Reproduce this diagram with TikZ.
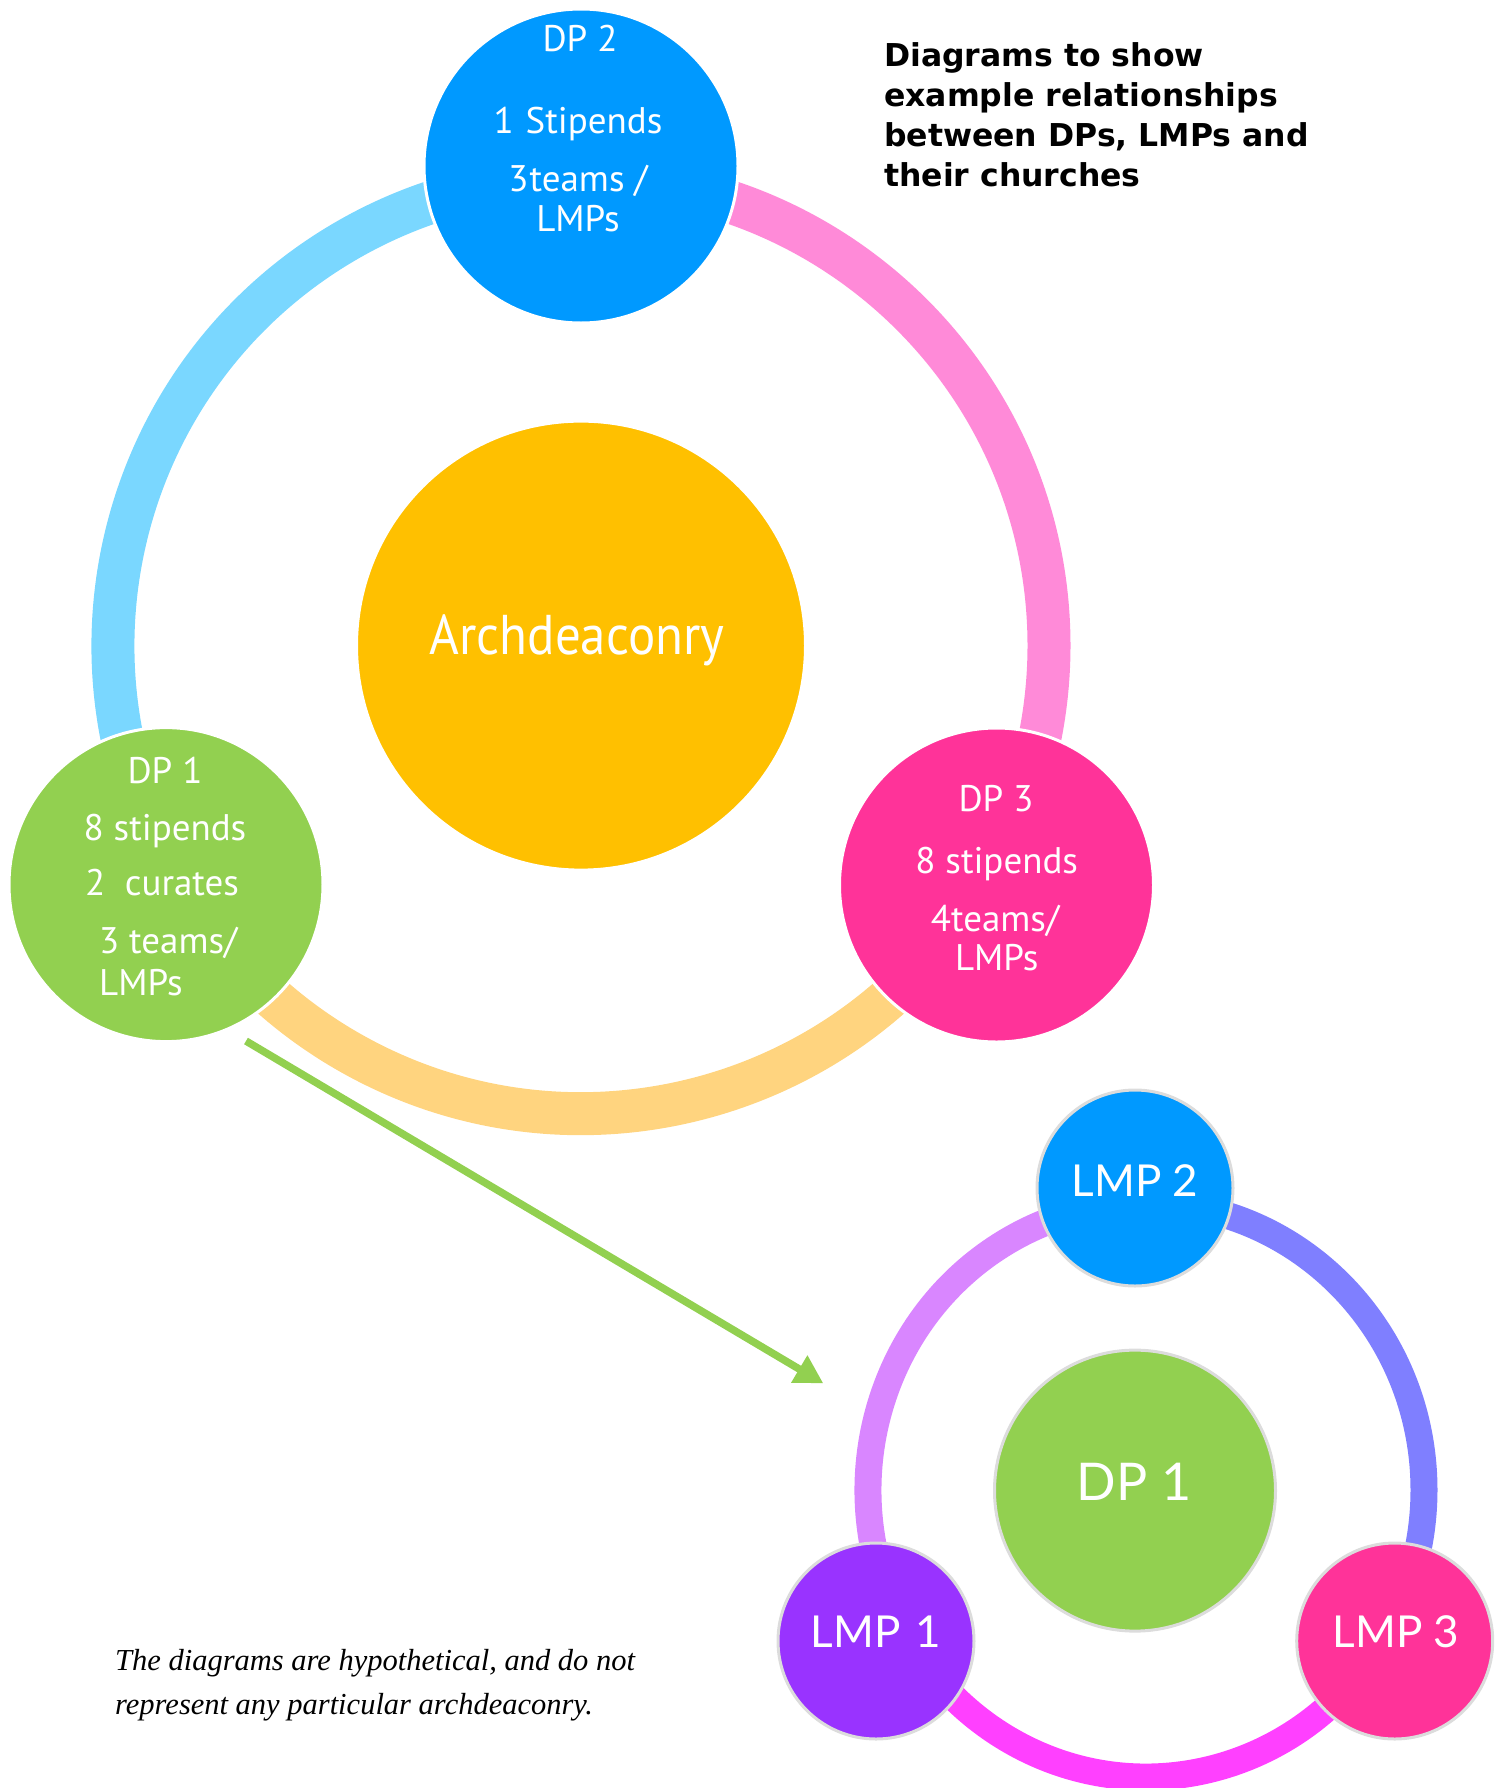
\documentclass[tikz,border=0pt]{standalone}
\usepackage{fontspec}
\usetikzlibrary{arrows.meta}
\newfontfamily\circfont{PT Sans}
\newfontfamily\archfont[FakeStretch=0.91]{PT Sans}
\newfontfamily\lmpfont{Lato}
\newfontfamily\headfont{DejaVu Sans}
\newfontfamily\notefont{Liberation Serif}
\definecolor{dpblue}{HTML}{0099FF}
\definecolor{ltblue}{HTML}{7AD7FF}
\definecolor{pinkarc}{HTML}{FF8AD8}
\definecolor{dppink}{HTML}{FF3399}
\definecolor{dpgreen}{HTML}{92D050}
\definecolor{archgold}{HTML}{FFC000}
\definecolor{orangearc}{HTML}{FFD47F}
\definecolor{lmppurple}{HTML}{9933FF}
\definecolor{leftarc}{HTML}{D986FF}
\definecolor{rightarc}{HTML}{7F7FFF}
\definecolor{bottomarc}{HTML}{FF40FF}
\definecolor{sborder}{HTML}{DCDCDC}
\begin{document}
\begin{tikzpicture}[x=1pt,y=-1pt,
  bigring/.style={line width=43pt},
  smallring/.style={line width=27pt},
  bigcirc/.style={circle, draw=white, line width=3pt, inner sep=0pt, minimum size=#1},
  smallcirc/.style={circle, draw=sborder, line width=3pt, inner sep=0pt, minimum size=#1},
  ctext/.style={text=white, inner sep=0pt, font=\circfont\fontsize{37}{44}\selectfont},
  ltext/.style={text=white, inner sep=0pt, font=\lmpfont\fontsize{44}{53}\selectfont},
  headtext/.style={anchor=base west, inner sep=0pt, font=\headfont\bfseries\fontsize{31.5}{38}\selectfont},
  notetext/.style={anchor=base west, inner sep=0pt, font=\notefont\itshape\fontsize{30.5}{36}\selectfont},
  greenarrow/.style={draw=dpgreen, line width=7.5pt, -{Triangle[length=28pt,width=30pt]}}
]
\useasboundingbox (0,0) rectangle (1503,1788);

% ---------- big diagram ----------
\coordinate (bigc) at (581,645.6);
\draw[bigring, ltblue] ([shift={(150:468)}]bigc) arc[start angle=150, end angle=270, radius=468];
\draw[bigring, pinkarc] ([shift={(270:468)}]bigc) arc[start angle=270, end angle=390, radius=468];
\draw[bigring, orangearc] ([shift={(30:468)}]bigc) arc[start angle=30, end angle=150, radius=468];

\node[bigcirc=449pt, fill=archgold] (arch) at (bigc) {};
\node[bigcirc=314pt, fill=dpblue] (dp2) at (581,166) {};
\node[bigcirc=314pt, fill=dpgreen] (dp1) at (166,884.6) {};
\node[bigcirc=314pt, fill=dppink] (dp3) at (996.5,885) {};

\node[ctext, anchor=base, font=\archfont\fontsize{56}{66}\selectfont] (archt) at (577,654) {Archdeaconry};

\node[ctext, anchor=base] (dp2a) at (580,51.7) {DP 2};
\node[ctext, anchor=base] (dp2b) at (578,133.3) {1\hspace{2pt} Stipends};
\node[ctext, anchor=base] (dp2c) at (578,191.7) {3\kern1pt teams /};
\node[ctext, anchor=base] (dp2d) at (578,231.7) {LMPs};

\node[ctext, anchor=base] (dp1a) at (165,783.3) {DP 1};
\node[ctext, anchor=base] (dp1b) at (165,840) {8 stipends};
\node[ctext, anchor=base] (dp1c) at (162,895) {2\ \ curates};
\node[ctext, anchor=base west] (dp1d) at (99,953.3) {3 teams/};
\node[ctext, anchor=base west] (dp1e) at (99,995) {LMPs};

\node[ctext, anchor=base] (dp3a) at (996,811.7) {DP 3};
\node[ctext, anchor=base] (dp3b) at (996.7,873.3) {8 stipends};
\node[ctext, anchor=base] (dp3c) at (995,931.7) {4teams/};
\node[ctext, anchor=base] (dp3d) at (996.7,970) {LMPs};

% ---------- heading ----------
\node[headtext] (h1) at (884,66.7) {Diagrams to show};
\node[headtext] (h2) at (884,106.7) {example relationships};
\node[headtext] (h3) at (884,146.6) {between DPs, LMPs and};
\node[headtext] (h4) at (884,186.6) {their churches};

% ---------- arrow ----------
\coordinate (arrS) at (246,1041);
\coordinate (arrE) at (823.3,1383.3);
\draw[greenarrow] (arrS) -- (arrE);

% ---------- small diagram ----------
\coordinate (smallc) at (1146,1490);
\draw[smallring, leftarc] ([shift={(150:278 and 287)}]smallc) arc[start angle=150, end angle=268, x radius=278, y radius=287];
\draw[smallring, rightarc] ([shift={(268:278 and 287)}]smallc) arc[start angle=268, end angle=390, x radius=278, y radius=287];
\draw[smallring, bottomarc] ([shift={(30:278 and 287)}]smallc) arc[start angle=30, end angle=150, x radius=278, y radius=287];

\node[smallcirc=281pt, fill=dpgreen] (sdp1) at (1135,1490.6) {};
\node[smallcirc=196pt, fill=dpblue] (lmp2) at (1135,1188) {};
\node[smallcirc=196pt, fill=lmppurple] (lmp1) at (876,1641) {};
\node[smallcirc=196pt, fill=dppink] (lmp3) at (1394.7,1641) {};

\node[ltext, anchor=base, font=\lmpfont\fontsize{52}{62}\selectfont] (sdp1t) at (1134,1500.8) {DP 1};
\node[ltext, anchor=base] (lmp2t) at (1135,1196.2) {LMP 2};
\node[ltext, anchor=base] (lmp1t) at (876,1647.8) {LMP\hspace{4pt} 1};
\node[ltext, anchor=base] (lmp3t) at (1396,1647.8) {LMP 3};

% ---------- note ----------
\node[notetext] (n1) at (115,1670) {The diagrams are hypothetical, and do not};
\node[notetext] (n2) at (115,1714) {represent any particular archdeaconry.};
\end{tikzpicture}
\end{document}
